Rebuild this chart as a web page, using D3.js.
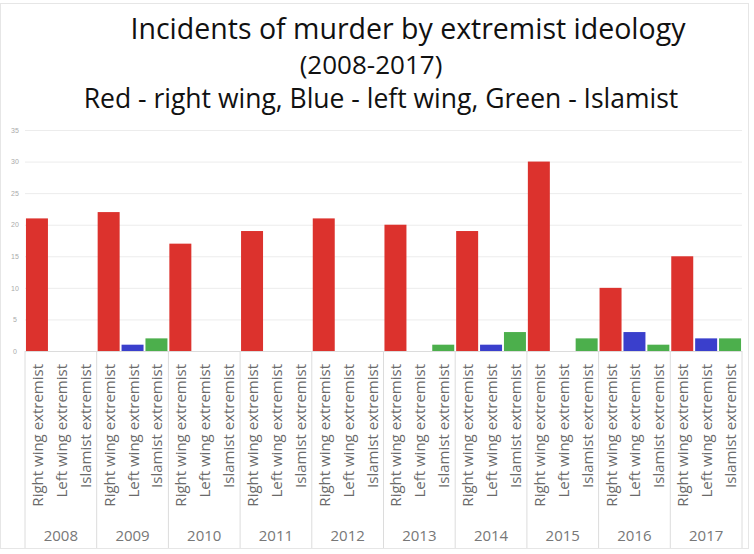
<!DOCTYPE html>
<html>
<head>
<meta charset="utf-8">
<script src="https://cdn.jsdelivr.net/npm/d3@7"></script>
<style>
  body { margin: 0; background: #fff; }
  svg { font-family: "Open Sans", "Noto Sans", sans-serif; }
</style>
</head>
<body>
<div id="chart"></div>
<script>
//chart data
var years = ["2008", "2009", "2010", "2011", "2012", "2013", "2014", "2015", "2016", "2017"];
var kinds = ["Right wing extremist", "Left wing extremist", "Islamist extremist"];
var rightWing = [21, 22, 17, 19, 21, 20, 19, 30, 10, 15];
var leftWing = [0, 1, 0, 0, 0, 0, 1, 0, 3, 2];
var islamist = [0, 2, 0, 0, 0, 1, 3, 2, 1, 2];
var yTicks = [0, 5, 10, 15, 20, 25, 30, 35];
var kindColors = ["#dc322d", "#3a3fcc", "#4caf4c"];

//dimensions
var width = 754, height = 554;
var plot = {left: 25, right: 742, top: 130, bottom: 351};

var svg = d3.select("#chart").append("svg")
    .attr("width", width)
    .attr("height", height);

//flatten to one row per bar
var series = [rightWing, leftWing, islamist];
var rows = [];
years.forEach(function(yr, i) {
    kinds.forEach(function(k, j) {
        rows.push({key: yr + "|" + k, year: yr, kind: k, idx: j, value: series[j][i]});
    });
});

//scales
var x = d3.scaleBand()
    .domain(rows.map(d => d.key))
    .range([plot.left, plot.right])
    .paddingInner(0.08)
    .paddingOuter(0.04);

var xYear = d3.scaleBand()
    .domain(years)
    .range([plot.left, plot.right]);

var y = d3.scaleLinear()
    .domain([0, 35])
    .range([plot.bottom, plot.top]);

//outer frame (light)
svg.append("rect")
    .attr("x", 0.5).attr("y", 3.5)
    .attr("width", width - 6).attr("height", 545)
    .attr("fill", "none")
    .attr("stroke", "#e6e6e6");

//titles
svg.append("text")
    .attr("x", 408).attr("y", 39)
    .attr("text-anchor", "middle")
    .attr("font-size", 28.5)
    .attr("fill", "#111")
    .text("Incidents of murder by extremist ideology");
svg.append("text")
    .attr("x", 371).attr("y", 74)
    .attr("text-anchor", "middle")
    .attr("font-size", 26)
    .attr("fill", "#111")
    .text("(2008-2017)");
svg.append("text")
    .attr("x", 381).attr("y", 108)
    .attr("text-anchor", "middle")
    .attr("font-size", 26.5)
    .attr("fill", "#111")
    .text("Red - right wing, Blue - left wing, Green - Islamist");

//grid lines
svg.append("g")
    .attr("class", "grid")
    .attr("transform", "translate(" + plot.left + ",0)")
    .call(d3.axisRight(y).tickValues(yTicks).tickSize(plot.right - plot.left).tickFormat(""))
    .call(g => g.select(".domain").remove())
    .call(g => g.selectAll(".tick line").attr("stroke", "#ececec"));

//y axis labels
svg.append("g")
    .attr("transform", "translate(15,0)")
    .call(d3.axisLeft(y).tickValues(yTicks).tickSize(0))
    .call(g => g.select(".domain").remove())
    .call(g => g.selectAll(".tick text")
        .attr("x", 0)
        .attr("text-anchor", "middle")
        .attr("font-size", 7)
        .attr("fill", "#aaa"));

//bars
svg.selectAll(".bar")
    .data(rows)
    .enter().append("rect")
    .attr("class", "bar")
    .attr("x", d => x(d.key))
    .attr("y", d => y(d.value))
    .attr("width", x.bandwidth())
    .attr("height", d => y(0) - y(d.value))
    .attr("fill", d => kindColors[d.idx]);

//baseline
svg.append("line")
    .attr("x1", plot.left).attr("x2", plot.right)
    .attr("y1", y(0) + 0.5).attr("y2", y(0) + 0.5)
    .attr("stroke", "#dcdcdc");

//category label area: separators
var sepBottom = 548;
svg.selectAll(".sep")
    .data(years.concat(["end"]))
    .enter().append("line")
    .attr("class", "sep")
    .attr("x1", (d, i) => i < years.length ? xYear(d) : plot.right)
    .attr("x2", (d, i) => i < years.length ? xYear(d) : plot.right)
    .attr("y1", y(0))
    .attr("y2", sepBottom)
    .attr("stroke", "#dcdcdc");

//rotated category labels
svg.selectAll(".cat")
    .data(rows)
    .enter().append("text")
    .attr("class", "cat")
    .attr("transform", d => "translate(" + (x(d.key) + x.bandwidth() / 2 + 6) + "," + 364 + ") rotate(-90)")
    .attr("text-anchor", "end")
    .attr("font-size", 15)
    .attr("fill", "#6a6a6a")
    .text(d => d.kind);

//year labels
svg.selectAll(".yr")
    .data(years)
    .enter().append("text")
    .attr("class", "yr")
    .attr("x", d => xYear(d) + xYear.bandwidth() / 2)
    .attr("y", 541)
    .attr("text-anchor", "middle")
    .attr("font-size", 15)
    .attr("fill", "#777")
    .text(d => d);
</script>
</body>
</html>
